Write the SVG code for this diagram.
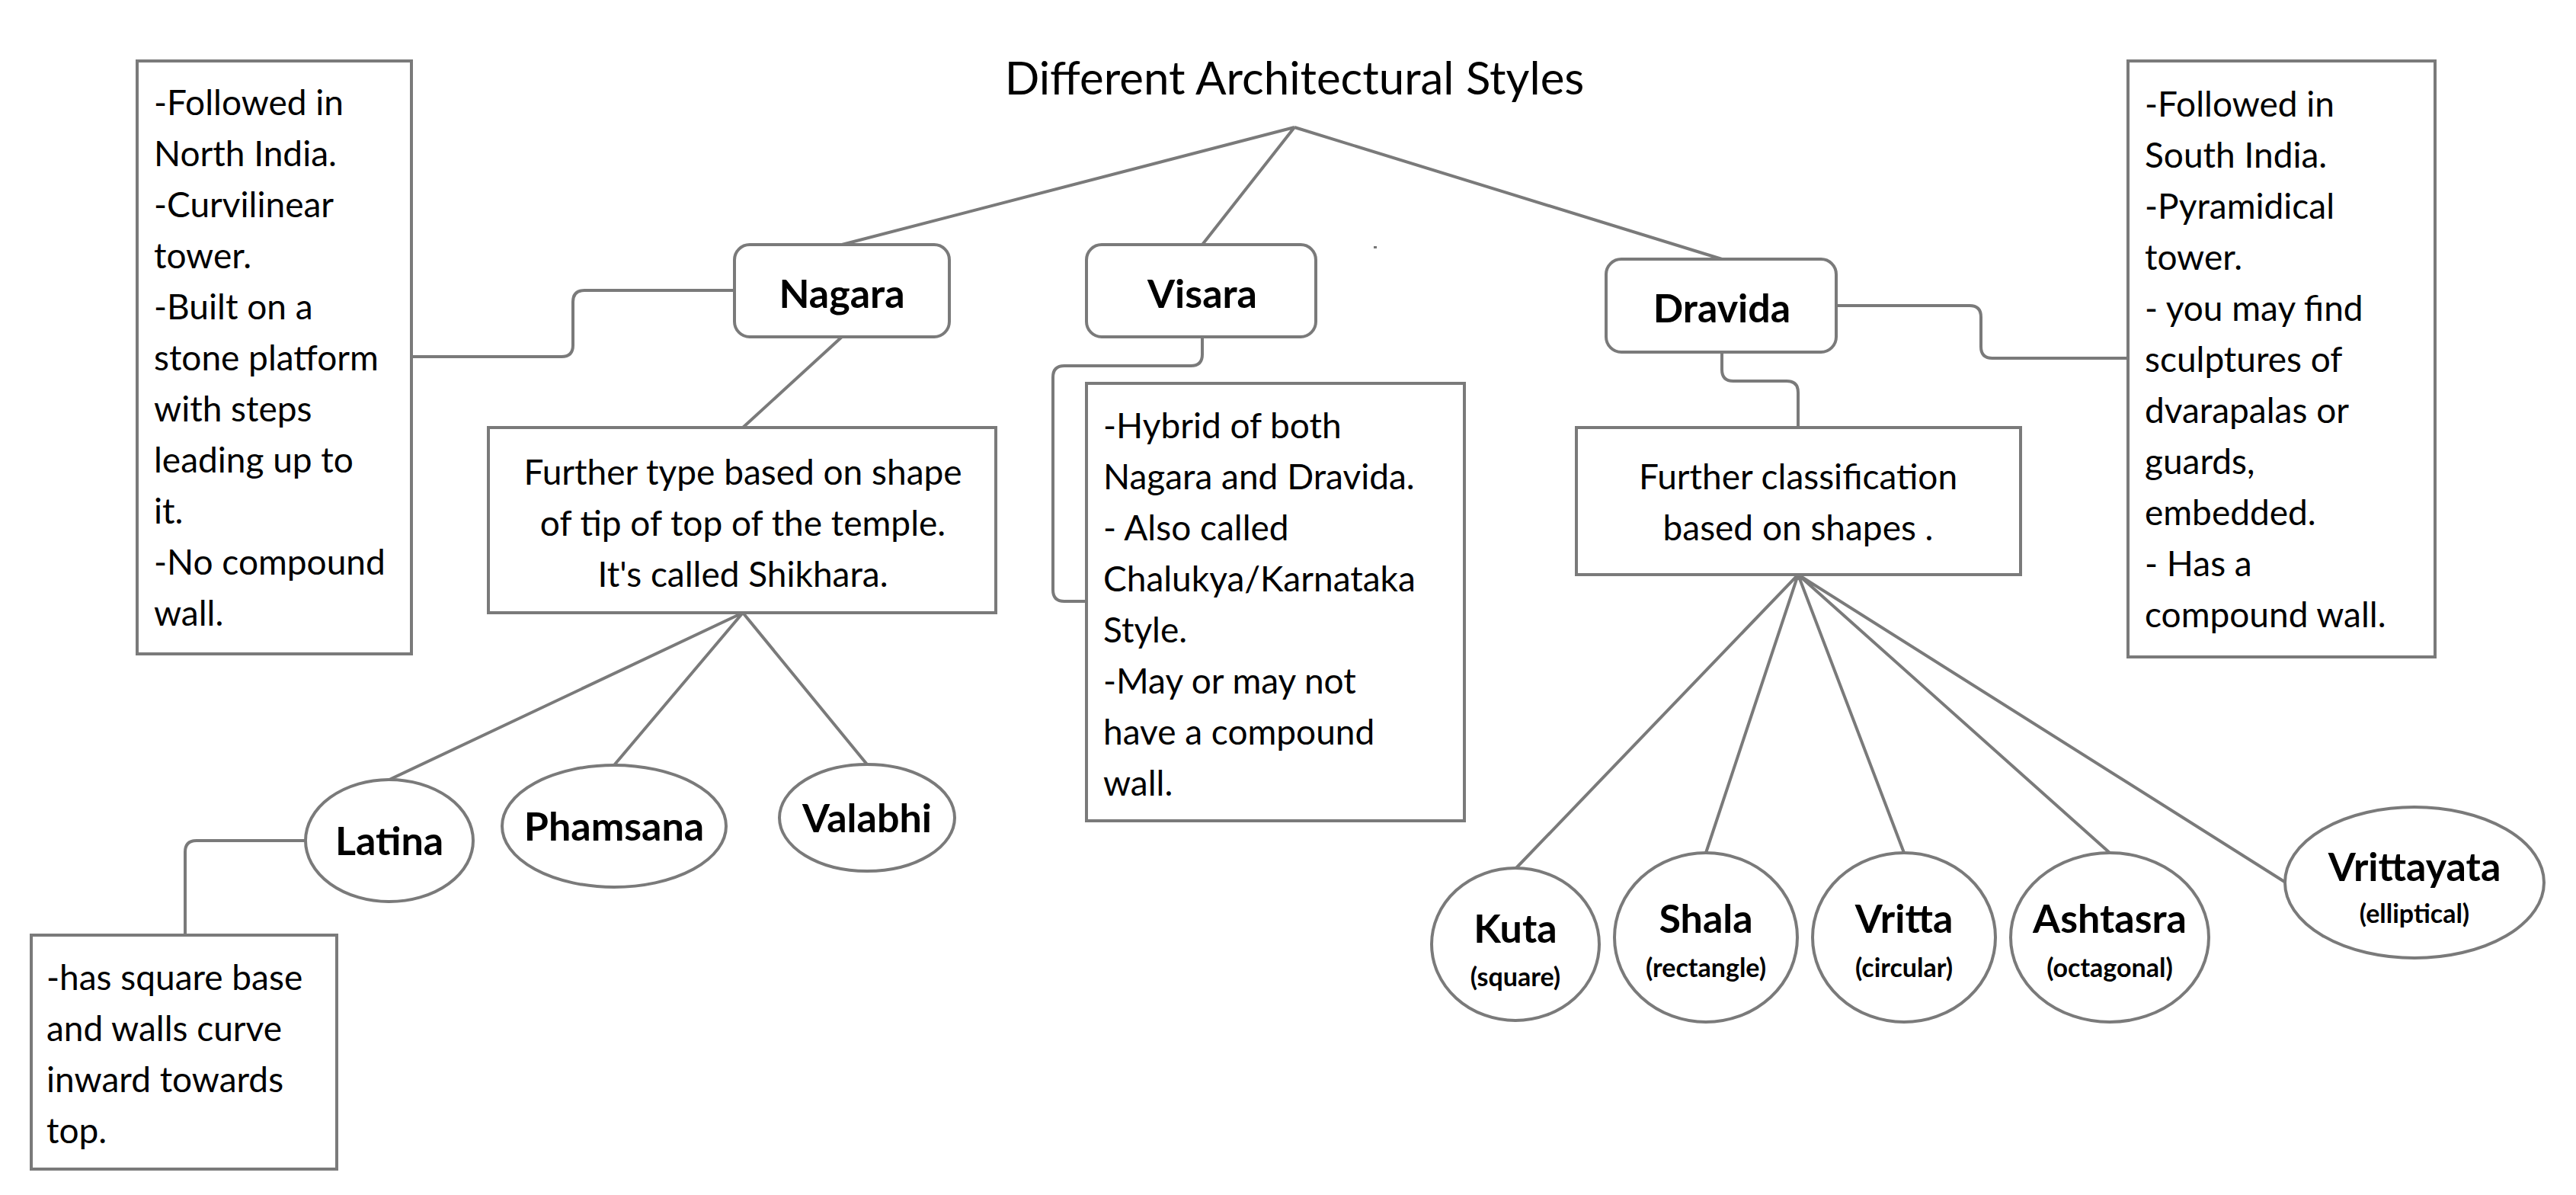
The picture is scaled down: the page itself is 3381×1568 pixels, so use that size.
<svg xmlns="http://www.w3.org/2000/svg" width="3381" height="1568" viewBox="0 0 3381 1568">
<style>
.s{fill:#fff;stroke:#7a7a7a;stroke-width:4}
.c{fill:none;stroke:#7a7a7a;stroke-width:4;stroke-linejoin:round}
text{font-family:Lato,"Open Sans","Liberation Sans",sans-serif;fill:#000}
.t{font-size:46px}
.b{font-size:52px;font-weight:bold;text-anchor:middle}
.sb{font-size:34px;font-weight:bold;text-anchor:middle}
.m{text-anchor:middle}
</style>
<rect width="3381" height="1568" fill="#fff"/>
<g id="connectors">
<path class="c" d="M1699,167 L1105,321 M1699,167 L1578,321 M1699,167 L2260,340"/>
<path class="c" d="M540,468 H737 Q752,468 752,453 V396 Q752,381 767,381 H964"/>
<path class="c" d="M1105,442 L975,561"/>
<path class="c" d="M975,804 L511,1023 M975,804 L806,1004 M975,804 L1138,1003"/>
<path class="c" d="M401,1103 H258 Q243,1103 243,1118 V1227"/>
<path class="c" d="M1578,442 V465 Q1578,480 1563,480 H1397 Q1382,480 1382,495 V774 Q1382,789 1397,789 H1426"/>
<path class="c" d="M2410,401 H2585 Q2600,401 2600,416 V455 Q2600,470 2615,470 H2793"/>
<path class="c" d="M2260,462 V485 Q2260,500 2275,500 H2345 Q2360,500 2360,515 V561"/>
<path class="c" d="M2360,754 L1989,1140 M2360,754 L2239,1119 M2360,754 L2499,1119 M2360,754 L2769,1119 M2360,754 L3000,1158"/>
</g>
<text x="1699" y="124" class="m" style="font-size:60px">Different Architectural Styles</text>
<rect x="1803" y="323" width="4" height="3" fill="#777"/>
<g id="north">
<rect class="s" x="180" y="80" width="360" height="778"/>
<text class="t" x="202"><tspan x="202" y="151">-Followed in</tspan><tspan x="202" y="218">North India.</tspan><tspan x="202" y="285">-Curvilinear</tspan><tspan x="202" y="352">tower.</tspan><tspan x="202" y="419">-Built on a</tspan><tspan x="202" y="486">stone platform</tspan><tspan x="202" y="553">with steps</tspan><tspan x="202" y="620">leading up to</tspan><tspan x="202" y="687">it.</tspan><tspan x="202" y="754">-No compound</tspan><tspan x="202" y="821">wall.</tspan></text>
</g>
<g id="nagara"><rect class="s" x="964" y="321" width="282" height="121" rx="20"/><text class="b" x="1105" y="404">Nagara</text></g>
<g id="visara"><rect class="s" x="1426" y="321" width="301" height="121" rx="20"/><text class="b" x="1578" y="404">Visara</text></g>
<g id="dravida"><rect class="s" x="2108" y="340" width="302" height="122" rx="20"/><text class="b" x="2260" y="423">Dravida</text></g>
<g id="shikhara">
<rect class="s" x="641" y="561" width="666" height="243"/>
<text class="t m"><tspan x="975" y="636">Further type based on shape</tspan><tspan x="975" y="703">of tip of top of the temple.</tspan><tspan x="975" y="770">It's called Shikhara.</tspan></text>
</g>
<g id="latina"><ellipse class="s" cx="511" cy="1103" rx="110" ry="80"/><text class="b" x="511" y="1122">Latina</text></g>
<g id="phamsana"><ellipse class="s" cx="806" cy="1084" rx="147" ry="80"/><text class="b" x="806" y="1103">Phamsana</text></g>
<g id="valabhi"><ellipse class="s" cx="1138" cy="1073" rx="115" ry="70"/><text class="b" x="1138" y="1092">Valabhi</text></g>
<g id="latina-note">
<rect class="s" x="41" y="1227" width="401" height="307"/>
<text class="t"><tspan x="61" y="1299">-has square base</tspan><tspan x="61" y="1366">and walls curve</tspan><tspan x="61" y="1433">inward towards</tspan><tspan x="61" y="1500">top.</tspan></text>
</g>
<g id="visara-note">
<rect class="s" x="1426" y="503" width="496" height="574"/>
<text class="t"><tspan x="1448" y="575">-Hybrid of both</tspan><tspan x="1448" y="642">Nagara and Dravida.</tspan><tspan x="1448" y="709">- Also called</tspan><tspan x="1448" y="776">Chalukya/Karnataka</tspan><tspan x="1448" y="843">Style.</tspan><tspan x="1448" y="910">-May or may not</tspan><tspan x="1448" y="977">have a compound</tspan><tspan x="1448" y="1044">wall.</tspan></text>
</g>
<g id="south">
<rect class="s" x="2793" y="80" width="403" height="782"/>
<text class="t"><tspan x="2815" y="153">-Followed in</tspan><tspan x="2815" y="220">South India.</tspan><tspan x="2815" y="287">-Pyramidical</tspan><tspan x="2815" y="354">tower.</tspan><tspan x="2815" y="421">- you may find</tspan><tspan x="2815" y="488">sculptures of</tspan><tspan x="2815" y="555">dvarapalas or</tspan><tspan x="2815" y="622">guards,</tspan><tspan x="2815" y="689">embedded.</tspan><tspan x="2815" y="756">- Has a</tspan><tspan x="2815" y="823">compound wall.</tspan></text>
</g>
<g id="classification">
<rect class="s" x="2069" y="561" width="583" height="193"/>
<text class="t m"><tspan x="2360" y="642">Further classification</tspan><tspan x="2360" y="709">based on shapes .</tspan></text>
</g>
<g id="kuta"><ellipse class="s" cx="1989" cy="1239" rx="110" ry="100"/><text class="b" x="1989" y="1237">Kuta</text><text class="sb" x="1989" y="1294">(square)</text></g>
<g id="shala"><ellipse class="s" cx="2239" cy="1230" rx="120" ry="111"/><text class="b" x="2239" y="1224">Shala</text><text class="sb" x="2239" y="1282">(rectangle)</text></g>
<g id="vritta"><ellipse class="s" cx="2499" cy="1230" rx="120" ry="111"/><text class="b" x="2499" y="1224">Vritta</text><text class="sb" x="2499" y="1282">(circular)</text></g>
<g id="ashtasra"><ellipse class="s" cx="2769" cy="1230" rx="130" ry="111"/><text class="b" x="2769" y="1224">Ashtasra</text><text class="sb" x="2769" y="1282">(octagonal)</text></g>
<g id="vrittayata"><ellipse class="s" cx="3169" cy="1158" rx="170" ry="99"/><text class="b" x="3169" y="1156">Vrittayata</text><text class="sb" x="3169" y="1211">(elliptical)</text></g>
</svg>
